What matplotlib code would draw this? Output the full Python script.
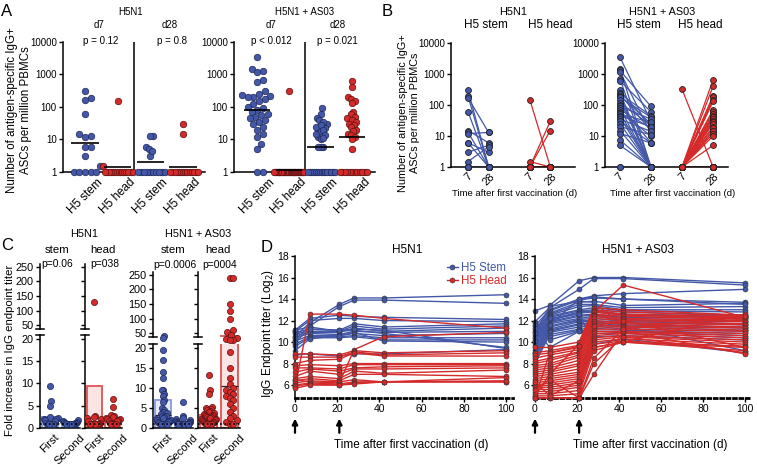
import numpy as np
import matplotlib
matplotlib.use('Agg')
import matplotlib.pyplot as plt
from matplotlib.lines import Line2D
from matplotlib.ticker import NullLocator

plt.rcParams['font.family'] = ['Liberation Sans', 'DejaVu Sans']
plt.rcParams['axes.linewidth'] = 1.1

# ---- data -------------------------------------------------------------
# panel A / B: antigen-specific IgG+ ASCs per million PBMCs (1 = none)
h5n1_stem_d7 = [300, 190, 170, 60, 15, 13, 12, 6, 6, 3, 1.5, 1, 1, 1, 1, 1]
h5n1_stem_d28 = [1, 1, 13, 1, 6, 1, 13, 3, 1, 5, 4.5, 1, 1, 1, 1, 1]
h5n1_head_d7 = [150, 1.5, 1, 1, 1, 1, 1, 1, 1, 1, 1, 1, 1, 1, 1, 1]
h5n1_head_d28 = [1, 1, 30, 15, 1, 1, 1, 1, 1, 1, 1, 1, 1, 1, 1, 1]

as03_stem_d7 = [3500, 1500, 1300, 1200, 700, 600, 300, 250, 230, 220, 200, 200,
                180, 150, 120, 100, 90, 80, 70, 60, 55, 50, 45, 40, 35, 30, 25,
                20, 15, 12, 7.5, 5, 1, 1]
as03_stem_d28 = [30, 1, 90, 12, 1, 60, 20, 1, 45, 15, 1, 25, 40, 1, 22, 6, 35,
                 1, 18, 10, 1, 28, 20, 1, 14, 6, 1, 11, 1, 6, 1, 1, 1, 1]
as03_head_d7 = [320] + [1] * 33
as03_head_d28 = [1, 650, 400, 200, 180, 150, 130, 70, 60, 50, 45, 40, 35, 30,
                 28, 25, 20, 18, 15, 14, 12, 10, 5] + [1] * 11

# panel C: fold increase in IgG endpoint titer
c_h5n1_stem_first = [9.5, 6, 5, 2.5, 2.2, 2, 2, 1.8, 1.5, 1.2, 1, 1, 1, 1, 1, 1]
c_h5n1_stem_second = [1.7, 1.5, 1.4, 1.3, 1.2, 1.1, 1.1, 1, 1, 1, 1, 1, 1, 1, 1, 1]
c_h5n1_head_first = [130, 2.6, 2.5, 2.2, 2, 1.5, 1.2, 1, 1, 1, 1, 1, 1, 1, 1, 1]
c_h5n1_head_second = [6.5, 4.8, 3, 2.8, 2.5, 2.2, 2, 2, 1.8, 1.5, 1.5, 1.2, 1, 1, 1, 1]
c_as03_stem_first = [42, 35, 19.5, 17, 14, 12.5, 9.5, 9.5, 8.5, 8, 7, 6.5, 5, 4.5,
                     4, 3.8, 3.5, 3, 3, 2.8, 2.5, 2.2, 2, 2, 1.8, 1.5, 1.5, 1.2,
                     1, 1, 1, 1, 1, 1]
c_as03_stem_second = [6.5, 3, 2.5, 2.2, 2, 1.8, 1.6, 1.5, 1.5, 1.3, 1.2, 1.2, 1.1] + [1] * 21
c_as03_head_first = [13.3, 9.5, 8.5, 5.2, 5, 4.8, 4.5, 4.2, 4, 3.8, 3.5, 3.3, 3.2,
                     3, 3, 2.8, 2.7, 2.5, 2.5, 2.3, 2.2, 2, 2, 1.8, 1.6, 1.5, 1.5,
                     1.3, 1.2, 1.1, 1, 1, 1, 1]
c_as03_head_second = [240, 240, 150, 125, 100, 62, 55, 45, 32, 30, 28, 25, 19, 15,
                      12.5, 11, 10, 9.5, 9, 8.5, 8, 7.5, 7, 6, 5, 4, 3, 2.5, 2, 1.5, 1, 1]

# panel D: IgG endpoint titer (log2) per subject at each day
days = [0, 7, 21, 28, 42, 100]
d_h5n1_stem = [
    [10.5, 11.8, 13.5, 14.1, 14.1, 14.4],
    [10.2, 11.5, 13.3, 13.9, 13.9, 13.6],
    [11.1, 12.2, 12.5, 12.4, 12.3, 12.1],
    [11.0, 12.0, 12.2, 12.2, 12.0, 11.9],
    [10.9, 11.2, 11.1, 11.7, 11.4, 11.7],
    [10.8, 11.0, 11.0, 11.5, 11.2, 11.5],
    [10.6, 10.9, 10.9, 11.3, 11.0, 11.3],
    [10.4, 10.8, 10.7, 11.0, 10.9, 11.0],
    [10.1, 10.6, 10.6, 10.8, 10.6, 10.8],
    [9.8, 10.5, 10.5, 10.6, 10.4, 10.4],
    [9.6, 10.4, 10.4, 10.5, 10.2, 10.2],
    [9.2, 10.3, 10.6, 10.9, 10.1, 10.0],
    [11.1, 11.4, 11.0, 11.1, 10.8, 9.5],
    [8.8, 8.9, 8.7, 8.9, 8.9, 9.3],
    [10.0, 11.2, 11.1, 11.2, 11.1, 9.4],
]
d_h5n1_head = [
    [5.8, 12.6, 12.6, 12.5, 12.2, 11.3],
    [6.5, 6.3, 6.2, 9.3, 10.5, 10.9],
    [8.9, 8.9, 8.8, 9.2, 9.0, 9.2],
    [8.6, 8.6, 8.6, 9.1, 8.8, 9.0],
    [8.0, 8.3, 8.4, 9.0, 8.7, 8.7],
    [7.8, 7.9, 7.8, 8.0, 8.0, 8.0],
    [7.6, 7.6, 7.5, 7.9, 7.9, 7.9],
    [7.2, 7.5, 7.3, 7.6, 7.7, 7.8],
    [6.8, 7.3, 7.0, 7.5, 7.5, 7.6],
    [6.6, 6.8, 6.6, 7.3, 7.1, 7.4],
    [6.4, 6.6, 6.4, 7.0, 7.0, 6.8],
    [6.2, 6.4, 6.3, 6.5, 6.3, 6.7],
    [6.0, 6.2, 6.1, 6.3, 6.3, 6.3],
    [5.9, 6.1, 6.0, 6.2, 6.3, 6.3],
    [5.7, 6.0, 6.0, 6.1, 6.3, 6.4],
]
d_as03_stem = [
    [12.9, 13.4, 15.7, 16.0, 16.0, 15.5],
    [11.9, 13.2, 14.9, 15.9, 15.9, 15.3],
    [11.5, 13.0, 14.0, 14.3, 14.5, 14.9],
    [11.2, 12.9, 13.9, 14.1, 14.0, 13.7],
    [11.0, 12.7, 13.7, 13.8, 13.4, 13.6],
    [10.9, 12.6, 13.5, 13.5, 13.2, 13.3],
    [10.7, 12.5, 13.3, 13.4, 13.0, 13.0],
    [10.5, 12.4, 13.0, 13.2, 12.9, 12.8],
    [10.4, 12.3, 12.9, 13.0, 12.8, 12.5],
    [10.2, 12.1, 12.8, 12.9, 12.6, 12.4],
    [10.0, 12.0, 12.7, 12.8, 12.5, 12.3],
    [9.9, 11.9, 12.5, 12.6, 12.3, 12.2],
    [9.7, 11.8, 12.4, 12.5, 12.2, 12.0],
    [9.5, 11.7, 12.2, 12.4, 12.0, 11.9],
    [9.3, 11.5, 12.1, 12.2, 11.9, 11.7],
    [9.1, 11.4, 12.0, 12.0, 11.8, 11.6],
    [8.9, 11.2, 11.9, 11.9, 11.6, 11.4],
    [8.7, 11.1, 11.7, 11.8, 11.5, 11.3],
    [8.5, 11.0, 11.6, 11.6, 11.4, 11.1],
    [8.2, 10.9, 11.4, 11.5, 11.2, 11.0],
    [8.0, 10.7, 11.2, 11.3, 11.1, 10.8],
    [11.8, 10.5, 11.1, 11.0, 11.0, 10.6],
    [11.6, 10.2, 11.0, 10.8, 10.8, 10.4],
    [11.3, 9.5, 11.0, 10.5, 10.6, 10.2],
    [10.8, 13.3, 13.8, 13.7, 11.5, 9.2],
    [10.1, 12.2, 12.6, 9.8, 10.3, 9.0],
    [9.0, 11.6, 14.0, 14.2, 14.0, 13.5],
]
d_as03_head = [
    [5.0, 7.0, 9.8, 12.8, 15.3, 12.3],
    [9.5, 9.5, 10.0, 13.2, 13.0, 12.5],
    [9.0, 9.2, 9.7, 13.0, 12.8, 12.4],
    [8.8, 9.0, 9.5, 12.9, 12.6, 12.3],
    [8.5, 8.8, 9.3, 12.8, 12.5, 12.2],
    [8.2, 8.5, 9.1, 12.6, 12.4, 12.1],
    [8.0, 8.3, 9.0, 12.5, 12.2, 12.0],
    [7.8, 8.0, 8.8, 12.4, 12.1, 11.9],
    [7.6, 7.8, 8.6, 12.2, 12.0, 11.7],
    [7.4, 7.6, 8.3, 12.0, 11.8, 11.6],
    [7.2, 7.4, 8.0, 11.8, 11.7, 11.4],
    [7.0, 7.2, 7.8, 11.6, 11.5, 11.3],
    [6.8, 7.0, 7.5, 11.4, 11.4, 11.1],
    [6.6, 6.8, 7.2, 11.2, 11.2, 11.0],
    [6.4, 6.6, 7.0, 11.0, 11.0, 10.8],
    [6.2, 6.4, 6.8, 10.8, 10.9, 10.6],
    [6.0, 6.2, 6.6, 10.6, 10.8, 10.4],
    [5.9, 6.0, 6.4, 10.4, 10.6, 10.2],
    [5.8, 5.8, 6.2, 10.2, 10.5, 10.0],
    [5.6, 5.6, 6.0, 10.0, 10.3, 9.8],
    [5.4, 5.4, 5.8, 9.8, 10.1, 9.6],
    [5.2, 5.2, 5.5, 9.5, 10.0, 9.5],
    [5.0, 5.0, 5.2, 9.2, 10.0, 9.2],
    [4.8, 4.8, 4.8, 8.0, 10.5, 9.0],
    [4.8, 4.8, 4.8, 7.0, 11.0, 8.9],
    [6.3, 5.0, 6.4, 9.5, 10.0, 12.6],
    [5.5, 6.5, 4.8, 8.5, 11.2, 12.4],
    [4.8, 9.0, 9.6, 11.5, 12.0, 9.5],
]

BLUE = '#4358a8'
RED = '#d52a2a'
BLUE_EDGE = '#1e2858'
RED_EDGE = '#5a1212'

W, H = 757, 471
fig = plt.figure(figsize=(W / 100, H / 100), dpi=100)


def add_ax(x0, y0, x1, y1):
    return fig.add_axes([x0 / W, 1 - y1 / H, (x1 - x0) / W, (y1 - y0) / H])


def ftext(x, y, s, size=7, **kw):
    fig.text(x / W, 1 - y / H, s, fontsize=size, ha=kw.pop('ha', 'center'),
             va=kw.pop('va', 'center'), **kw)


def clean(ax):
    ax.spines['top'].set_visible(False)
    ax.spines['right'].set_visible(False)
    ax.tick_params(length=3, width=1, pad=1.5, labelsize=7)


def swarm_offsets(ypx, dot, max_half):
    # simple beeswarm in pixel units
    ypx = np.asarray(ypx, float)
    xs = np.zeros(len(ypx))
    placed = []
    step = dot * 0.35
    for i in np.argsort(ypx):
        y = ypx[i]
        k = 0
        found = None
        while found is None:
            for c in ([0.0] if k == 0 else [k * step, -k * step]):
                if all((c - px) ** 2 + (y - py) ** 2 >= dot ** 2 for px, py in placed):
                    found = c
                    break
            k += 1
        xs[i] = found
        placed.append((found, y))
    m = np.abs(xs).max()
    if m > max_half:
        xs *= max_half / m
    return xs


# ---- panel A ------------------------------------------------------------
def draw_a(ax, series, xpxu, xlim):
    clean(ax)
    ax.set_yscale('log')
    ax.set_ylim(1, 10000)
    ax.set_xlim(*xlim)
    for i, (vals, col, ec) in enumerate(series):
        v = np.array(vals, float)
        off = swarm_offsets(np.log10(v) * 32.5, 6.2, 15)
        ax.scatter(i + off / xpxu, v, s=22, color=col, edgecolor=ec, lw=0.5,
                   clip_on=False, zorder=3)
        gm = 10 ** np.mean(np.log10(v))
        ax.hlines(gm, i - 0.42, i + 0.42, color='black', lw=1.2, zorder=4)
    ax.axvline(1.5, color='black', lw=1.1)
    ax.set_yticks([1, 10, 100, 1000, 10000])
    ax.set_yticklabels(['1', '10', '100', '1000', '10000'])
    ax.yaxis.set_minor_locator(NullLocator())
    ax.set_xticks(range(4))
    ax.set_xticklabels(['H5 stem', 'H5 head'] * 2, rotation=45, fontsize=8.5)
    ax.tick_params(axis='x', length=0, pad=3)


axA1 = add_ax(63, 42, 205, 172)
draw_a(axA1, [(h5n1_stem_d7, BLUE, BLUE_EDGE), (h5n1_head_d7, RED, RED_EDGE),
              (h5n1_stem_d28, BLUE, BLUE_EDGE), (h5n1_head_d28, RED, RED_EDGE)],
       32.7, (-0.67, 3.67))
axA2 = add_ax(234, 42, 375, 172)
draw_a(axA2, [(as03_stem_d7, BLUE, BLUE_EDGE), (as03_head_d7, RED, RED_EDGE),
              (as03_stem_d28, BLUE, BLUE_EDGE), (as03_head_d28, RED, RED_EDGE)],
       31.7, (-0.73, 3.72))


# ---- panel B ------------------------------------------------------------
def draw_b(ax, groups, xpos, xlim):
    clean(ax)
    ax.set_yscale('log')
    ax.set_ylim(1, 10000)
    ax.set_xlim(*xlim)
    for (d7, d28, col, ec), (x0, x1) in zip(groups, xpos):
        for a, b in zip(d7, d28):
            ax.plot([x0, x1], [a, b], color=col, lw=0.9, zorder=2)
        ax.scatter([x0] * len(d7), d7, s=18, color=col, edgecolor='#222222',
                   lw=0.6, clip_on=False, zorder=3)
        ax.scatter([x1] * len(d28), d28, s=18, color=col, edgecolor='#222222',
                   lw=0.6, clip_on=False, zorder=3)
    ax.set_yticks([1, 10, 100, 1000, 10000])
    ax.set_yticklabels(['1', '10', '100', '1000', '10000'])
    ax.yaxis.set_minor_locator(NullLocator())
    ticks = [p for pair in xpos for p in pair]
    ax.set_xticks(ticks)
    ax.set_xticklabels(['7', '28', '7', '28'], rotation=45, fontsize=8)
    ax.tick_params(axis='x', length=0, pad=3)


axB1 = add_ax(451, 43, 575, 167)
draw_b(axB1, [(h5n1_stem_d7, h5n1_stem_d28, BLUE, BLUE_EDGE),
              (h5n1_head_d7, h5n1_head_d28, RED, RED_EDGE)],
       [(0, 1), (3, 4)], (-0.83, 5.2))
axB2 = add_ax(605, 43, 728, 167)
draw_b(axB2, [(as03_stem_d7, as03_stem_d28, BLUE, BLUE_EDGE),
              (as03_head_d7, as03_head_d28, RED, RED_EDGE)],
       [(0, 1), (2, 3)], (-0.48, 3.48))


# ---- panel C (broken y axis) -------------------------------------------
def c_pair(x0, x1, bot_top, top_box, first, second, col, ec, ecol, fcol, labels):
    axb = add_ax(x0, bot_top, x1, 428)
    axt = add_ax(x0, top_box[0], x1, top_box[1])
    for ax, lim in ((axb, (0, 21)), (axt, (37, 260))):
        clean(ax)
        ax.set_ylim(*lim)
        ax.set_xlim(-0.5, 1.5)
        ax.tick_params(labelsize=7.8)
    axt.spines['bottom'].set_visible(False)
    axt.tick_params(axis='x', bottom=False, labelbottom=False)
    pxu_b = (428 - bot_top) / 21
    pxu_t = (top_box[1] - top_box[0]) / 223
    for i, vals in enumerate((first, second)):
        v = np.array(vals, float)
        for ax in (axb, axt):
            ax.bar(i, v.mean(), width=0.8, color=fcol, edgecolor=ecol, lw=1.4, zorder=1)
        med = np.median(v)
        (axb if med <= 21 else axt).hlines(med, i - 0.4, i + 0.4, color='#222222',
                                           lw=0.9, zorder=2)
        ypx = np.where(v <= 21, v * pxu_b, (428 - bot_top) + 8 + (v - 37) * pxu_t)
        off = swarm_offsets(ypx, 6.0, 7.5)
        xs = i + off / 20.0
        low = v <= 21
        axb.scatter(xs[low], v[low], s=20, color=col, edgecolor=ec, lw=0.5,
                    clip_on=False, zorder=3)
        axt.scatter(xs[~low], v[~low], s=20, color=col, edgecolor=ec, lw=0.5,
                    clip_on=False, zorder=3)
    axb.axhline(1, color='black', ls=':', lw=1.2, zorder=5)
    axb.set_yticks([0, 5, 10, 15, 20])
    axt.set_yticks([50, 100, 150, 200, 250])
    if not labels:
        axb.set_yticklabels([])
        axt.set_yticklabels([])
    axb.set_xticks([0, 1])
    axb.set_xticklabels(['First', 'Second'], rotation=45, fontsize=8)
    axb.tick_params(axis='x', length=0, pad=3)
    # break marks
    axb.plot([-0.1, 0.1], [1, 1], transform=axb.transAxes, color='black',
             lw=1.1, clip_on=False)
    axt.plot([-0.1, 0.1], [0, 0], transform=axt.transAxes, color='black',
             lw=1.1, clip_on=False)


BAR_BLUE, FILL_BLUE = '#8fa0dd', '#e4e8f8'
BAR_RED, FILL_RED = '#e35d5d', '#fbe4e4'
c_pair(40, 80, 334.5, (264, 329), c_h5n1_stem_first, c_h5n1_stem_second,
       BLUE, BLUE_EDGE, BAR_BLUE, FILL_BLUE, True)
c_pair(85, 122, 334.5, (264, 329), c_h5n1_head_first, c_h5n1_head_second,
       RED, RED_EDGE, BAR_RED, FILL_RED, False)
c_pair(153, 193, 344, (272, 337), c_as03_stem_first, c_as03_stem_second,
       BLUE, BLUE_EDGE, BAR_BLUE, FILL_BLUE, True)
c_pair(198, 240, 344, (272, 337), c_as03_head_first, c_as03_head_second,
       RED, RED_EDGE, BAR_RED, FILL_RED, False)


# ---- panel D ------------------------------------------------------------
def draw_d(ax, stem, head):
    clean(ax)
    ax.tick_params(labelsize=7.5)
    for row in stem:
        ax.plot(days, row, color=BLUE, lw=1, marker='o', ms=3.6, mfc=BLUE,
                mec='#333333', mew=0.4, clip_on=False, zorder=2)
    for row in head:
        ax.plot(days, row, color=RED, lw=1, marker='o', ms=3.6, mfc=RED,
                mec='#333333', mew=0.4, clip_on=False, zorder=3)
    ax.set_xlim(0, 103.3)
    ax.set_ylim(4.8, 18)
    ax.set_yticks(range(6, 19, 2))
    ax.set_xticks(range(0, 101, 20))
    ax.spines['bottom'].set_linestyle((0, (1, 1.3)))
    ax.spines['bottom'].set_linewidth(2)
    for d in (0, 21):
        ax.annotate('', xy=(d, -0.145), xytext=(d, -0.245),
                    xycoords=('data', 'axes fraction'),
                    textcoords=('data', 'axes fraction'),
                    arrowprops=dict(arrowstyle='-|>', color='black', lw=1.6,
                                    mutation_scale=8, shrinkA=0, shrinkB=0),
                    annotation_clip=False)


axD1 = add_ax(295, 256, 513, 398)
draw_d(axD1, d_h5n1_stem, d_h5n1_head)
axD2 = add_ax(535, 256, 752, 398)
draw_d(axD2, d_as03_stem, d_as03_head)
handles = [Line2D([0], [0], color=BLUE, lw=1, marker='o', ms=3.6, mec='#333333', mew=0.4),
           Line2D([0], [0], color=RED, lw=1, marker='o', ms=3.6, mec='#333333', mew=0.4)]
axD1.legend(handles, ['H5 Stem', 'H5 Head'], loc='upper right', frameon=False,
            fontsize=8.3, labelcolor=[BLUE, RED], handlelength=1.0,
            handletextpad=0.3, labelspacing=0.15, borderaxespad=0.1,
            bbox_to_anchor=(1.0, 1.0))

# ---- text ---------------------------------------------------------------
for s, x, y in (('A', 7, 11), ('B', 387, 12), ('C', 7, 246), ('D', 267, 247)):
    ftext(x, y, s, size=12)

ftext(131, 12, 'H5N1')
ftext(99, 25, 'd7')
ftext(170, 25, 'd28')
ftext(101, 41, 'p = 0.12')
ftext(172, 41, 'p = 0.8')
ftext(305, 12, 'H5N1 + AS03')
ftext(271, 25, 'd7')
ftext(338, 25, 'd28')
ftext(271, 41, 'p < 0.012')
ftext(337, 41, 'p = 0.021')
ftext(19, 110, 'Number of antigen-specific IgG+\nASCs per million PBMCs',
      size=8.3, rotation=90, linespacing=1.15)

ftext(513, 12, 'H5N1', size=7.8)
ftext(486, 25, 'H5 stem', size=8.5)
ftext(550, 25, 'H5 head', size=8.5)
ftext(662, 12, 'H5N1 + AS03', size=7.8)
ftext(639, 25, 'H5 stem', size=8.5)
ftext(700, 25, 'H5 head', size=8.5)
ftext(409, 113, 'Number of antigen-specific IgG+\nASCs per million PBMCs',
      size=7.8, rotation=90, linespacing=1.15)
ftext(515, 193, 'Time after first vaccination (d)', size=6.8)
ftext(673, 193, 'Time after first vaccination (d)', size=6.8)

ftext(84, 234, 'H5N1', size=7.8)
ftext(198, 234, 'H5N1 + AS03', size=7.8)
ftext(57, 250, 'stem', size=8.2)
ftext(103, 250, 'head', size=8.2)
ftext(57, 264, 'p=0.06', size=7.4)
ftext(105, 264, 'p=038', size=7.4)
ftext(173, 250, 'stem', size=8.2)
ftext(218, 250, 'head', size=8.2)
ftext(175, 265, 'p=0.0006', size=7.4)
ftext(220, 265, 'p=0004', size=7.4)
ftext(10, 350, 'Fold increase in IgG endpoint titer', size=8.2, rotation=90)

ftext(407, 250, 'H5N1', size=8.5)
ftext(638, 250, 'H5N1 + AS03', size=8.5)
ftext(268, 333, 'IgG Endpoint titer (Log$_2$)', size=8.5, rotation=90)
ftext(411, 445, 'Time after first vaccination (d)', size=8.5)
ftext(650, 445, 'Time after first vaccination (d)', size=8.5)

fig.savefig('out.png', dpi=100)
